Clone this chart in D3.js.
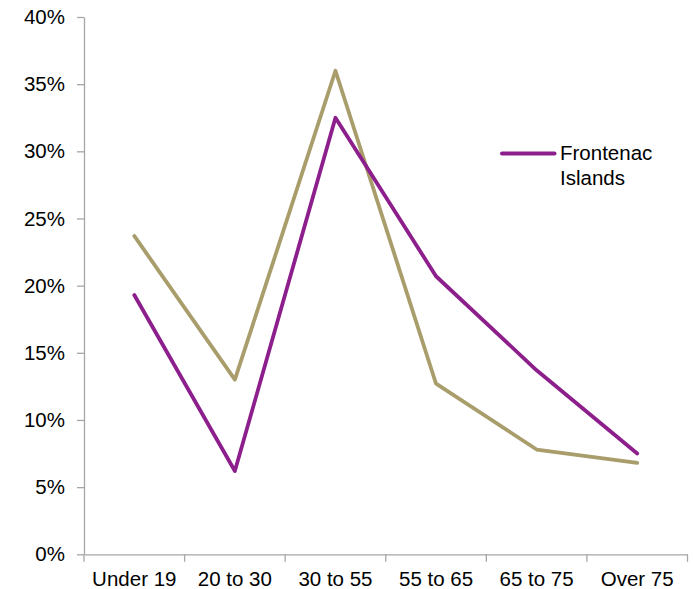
<!DOCTYPE html>
<html>
<head>
<meta charset="utf-8">
<script src="https://cdn.jsdelivr.net/npm/d3@7"></script>
<style>
  html, body { margin: 0; padding: 0; background: #fff; }
  svg { display: block; font-family: "Liberation Sans", Arial, sans-serif; }
</style>
</head>
<body>
<svg id="chart" width="693" height="589"></svg>
<script>
// Age groups along the x axis
const categories = ["Under 19", "20 to 30", "30 to 55", "55 to 65", "65 to 75", "Over 75"];
// Share of population in each age group (%)
const frontenacIslands = [19.3, 6.2, 32.5, 20.7, 13.7, 7.5];
const comparison = [23.7, 13.0, 36.0, 12.7, 7.8, 6.8];
// Y axis ticks (%)
const yTicks = [0, 5, 10, 15, 20, 25, 30, 35, 40];

const svg = d3.select("#chart");
const plotLeft = 84, plotRight = 687.5, plotTop = 17, plotBottom = 554.3;

const x = d3.scaleBand().domain(categories).range([plotLeft, plotRight]);
const y = d3.scaleLinear().domain([0, 40]).range([plotBottom, plotTop]);

const axisColor = "#a6a6a6";
const fontSize = "20.5px";

// Y axis
const yAxis = svg.append("g")
  .attr("transform", `translate(${plotLeft},0)`)
  .call(d3.axisLeft(y).tickValues(yTicks).tickFormat(d => d + "%").tickSizeInner(7).tickSizeOuter(0).tickPadding(12));
yAxis.select(".domain").attr("stroke", axisColor).attr("stroke-width", 1.3);
yAxis.selectAll(".tick line").attr("stroke", axisColor).attr("stroke-width", 1.3);
yAxis.selectAll(".tick text").attr("fill", "#000").style("font-size", fontSize).attr("font-family", "Liberation Sans, Arial, sans-serif");

// X axis with ticks at band boundaries
const xAxis = svg.append("g")
  .attr("transform", `translate(0,${plotBottom})`)
  .call(d3.axisBottom(x).tickSize(0).tickPadding(17));
xAxis.select(".domain").attr("stroke", axisColor).attr("stroke-width", 1.3);
xAxis.selectAll(".tick text").attr("fill", "#000").style("font-size", fontSize).attr("font-family", "Liberation Sans, Arial, sans-serif");
const boundaries = categories.map(c => x(c)).concat([x(categories[categories.length - 1]) + x.bandwidth()]);
xAxis.selectAll(".bound").data(boundaries).enter().append("line")
  .attr("class", "bound")
  .attr("x1", d => d).attr("x2", d => d)
  .attr("y1", 0).attr("y2", 7.5)
  .attr("stroke", axisColor).attr("stroke-width", 1.3);

// Lines
const line = d3.line()
  .x((d, i) => x(categories[i]) + x.bandwidth() / 2)
  .y(d => y(d));

svg.append("path")
  .datum(comparison)
  .attr("fill", "none")
  .attr("stroke", "#a89d6b")
  .attr("stroke-width", 3.8)
  .attr("stroke-linejoin", "round")
  .attr("stroke-linecap", "round")
  .attr("d", line);

svg.append("path")
  .datum(frontenacIslands)
  .attr("fill", "none")
  .attr("stroke", "#8c1f8c")
  .attr("stroke-width", 3.8)
  .attr("stroke-linejoin", "round")
  .attr("stroke-linecap", "round")
  .attr("d", line);

// Legend
const legend = svg.append("g");
legend.append("line")
  .attr("x1", 502).attr("x2", 554.5)
  .attr("y1", 153.5).attr("y2", 153.5)
  .attr("stroke", "#8c1f8c").attr("stroke-width", 4).attr("stroke-linecap", "round");
const lt = legend.append("text")
  .attr("x", 560).attr("y", 159.5)
  .style("font-size", fontSize).attr("fill", "#000");
lt.append("tspan").attr("x", 560).attr("y", 159.5).text("Frontenac");
lt.append("tspan").attr("x", 560).attr("y", 185.2).text("Islands");
</script>
</body>
</html>
